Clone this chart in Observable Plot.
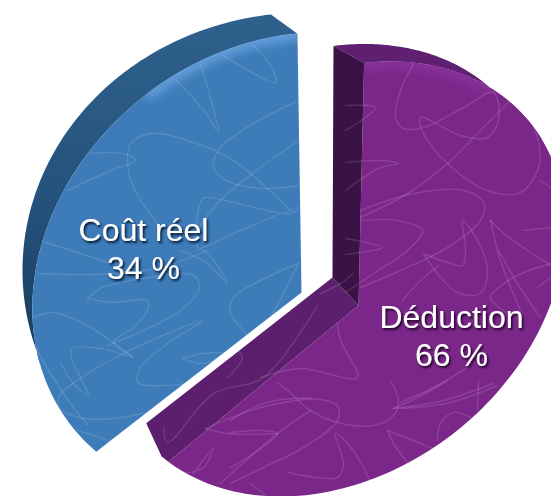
<!DOCTYPE html>
<html lang="fr">
<head>
<meta charset="utf-8">
<script src="https://cdn.jsdelivr.net/npm/d3@7"></script>
<script src="https://cdn.jsdelivr.net/npm/@observablehq/plot@0.6"></script>
<style>
html,body{margin:0;padding:0;background:#fff}
svg{display:block}
</style>
</head>
<body>
<div id="chart"></div>
<script>
// ---- Data ----
const categories = ["Coût réel", "Déduction"];
const shares = [34, 66];
const blueSquiggles = [
  [[200,63],[212,105],[218,132],[205,112],[176,80]],
  [[223,55],[253,73],[275,82],[272,68],[253,45]],
  [[67,190],[110,170],[135,160],[123,153],[90,153]],
  [[157,223],[133,187],[127,160],[130,143],[150,133],[187,140],[233,160],[290,210]],
  [[298,100],[253,123],[220,147],[213,167],[230,182],[267,188],[298,185]],
  [[298,140],[260,167],[223,197],[203,220],[192,240]],
  [[197,250],[197,213],[203,198],[233,202],[290,213],[298,207],[240,230],[197,250]],
  [[37,273],[83,274],[133,272],[167,265],[207,250]],
  [[45,242],[77,252],[107,262]],
  [[87,298],[100,288],[143,278],[193,275],[199,287],[180,310],[143,330],[107,345]],
  [[87,298],[113,302],[147,300],[147,310],[133,327],[113,342],[132,356],[100,348],[72,348],[71,357],[80,377],[88,395],[73,383],[60,362]],
  [[33,317],[53,312],[83,323],[110,340],[132,357]],
  [[60,410],[58,397],[87,373],[123,353],[167,333],[202,320],[167,343],[140,367],[137,382],[167,385],[187,383]],
  [[60,410],[83,418],[113,418],[147,412]],
  [[182,358],[203,353],[223,353],[203,363],[182,358]],
  [[298,263],[260,280],[233,297],[230,313],[243,330],[258,348]],
  [[298,263],[283,293],[270,317]],
  [[77,430],[93,435],[113,442]],
  [[33,343],[50,373],[73,407],[88,425]],
  [[180,250],[207,263],[227,283],[213,260],[203,250]]
];
const purpleSquiggles = [
  [[413,63],[400,90],[395,117],[403,128],[423,127],[463,107],[493,92],[498,120],[487,137],[460,135],[420,117],[423,133],[447,163],[487,190],[520,192],[538,167],[537,137],[520,105]],
  [[510,100],[480,130],[447,163],[407,193],[360,217]],
  [[360,210],[413,193],[463,190],[483,202],[480,220],[447,247],[400,270],[360,287]],
  [[360,220],[397,220],[422,230],[407,250],[373,273],[345,292]],
  [[345,190],[380,167],[398,163],[380,160],[345,162]],
  [[345,238],[382,247],[345,254]],
  [[345,130],[375,107],[345,105]],
  [[423,253],[447,262],[462,265],[465,247],[462,220],[477,240],[487,270],[480,293],[457,292],[437,273],[423,253]],
  [[490,220],[500,230],[527,250],[551,265]],
  [[490,220],[500,260],[520,310]],
  [[438,265],[420,280],[402,300]],
  [[551,263],[513,277],[490,297],[503,310],[520,317]],
  [[523,230],[551,227]],
  [[540,180],[551,188]],
  [[277,382],[287,390],[310,410],[337,422],[373,425],[393,415],[398,400],[390,380]],
  [[230,420],[263,403],[310,398],[337,405],[337,420],[303,447],[263,467],[230,483]],
  [[230,432],[263,430],[277,433],[253,453],[230,467]],
  [[250,483],[267,496]],
  [[288,472],[317,477],[337,477],[343,465],[335,433],[347,443],[363,467],[369,480]],
  [[387,430],[393,443],[407,462]],
  [[387,430],[413,440],[437,450]],
  [[437,440],[440,423],[453,412],[470,417]],
  [[393,408],[443,400],[493,383]],
  [[393,408],[417,397],[447,380]],
  [[478,380],[477,410]],
  [[400,408],[450,402],[497,385]],
  [[400,402],[433,387],[467,367]],
  [[498,250],[517,283],[540,317]],
  [[537,287],[550,277]],
  [[163,427],[167,442],[213,393],[263,377],[317,305]],
  [[227,377],[242,357],[232,345]],
  [[260,377],[300,368],[357,377],[340,340],[337,323]],
  [[320,293],[340,283],[353,273]],
  [[180,473],[203,467],[213,447],[193,473]],
  [[220,483],[277,433],[310,410]],
  [[205,428],[227,433],[277,433]],
  [[205,428],[260,407],[310,398]]
];

// ---- Perspective of the drawing (not data) ----
const blueFace = {cx:276, cy:265, ax:240, bx:45, by:-233, apex:[301,292], start:95.7, stretch:1.122};
const blueBack = {cx:305, cy:270, ax:283, bx:0, by:-258, start:97, fraction:0.84};
const purpleFace = {cx:335, cy:278.5, ax:223, bx:55, by:-217.5, apex:[358,305], start:96.7, stretch:0.924};
const purpleBack = {cx:312, cy:250.5, ax:222, bx:52, by:-207, apex:[332,277], start:97.9};
const labelAnchors = [[143,247],[451,334]];

const rad = d => d * Math.PI / 180;
const onEllipse = (s, deg) => ({
  x: s.cx + s.ax * Math.cos(rad(deg)) + s.bx * Math.sin(rad(deg)),
  y: s.cy + s.by * Math.sin(rad(deg))
});
const arc = (s, from, to, n = 90) =>
  d3.range(n + 1).map(i => onEllipse(s, from + (to - from) * i / n));
const pt = ([x, y]) => ({x, y});

const blueEnd = blueFace.start + shares[0] * 3.6 * blueFace.stretch;
const purpleEnd = purpleFace.start - shares[1] * 3.6 * purpleFace.stretch;

const blueFacePts = [pt(blueFace.apex), ...arc(blueFace, blueFace.start, blueEnd)];
const blueBackEnd = blueBack.start + shares[0] * 3.6 * blueBack.fraction;
const blueSidePts = [
  ...arc(blueBack, blueBack.start, blueBackEnd),
  ...arc(blueFace, 205, blueFace.start)
];
const purpleFacePts = [pt(purpleFace.apex), ...arc(purpleFace, purpleFace.start, purpleEnd, 140)];
const purpleTopPts = [
  ...arc(purpleBack, purpleBack.start, 30),
  ...arc(purpleFace, 40, purpleFace.start)
];
const purpleWallPts = [
  onEllipse(purpleBack, purpleBack.start),
  onEllipse(purpleFace, purpleFace.start),
  pt(purpleFace.apex),
  pt(purpleBack.apex)
];
const purpleLowerPts = [
  pt(purpleBack.apex),
  onEllipse(purpleBack, purpleEnd - 0.8),
  ...arc(purpleFace, purpleEnd - 2.5, purpleEnd, 4),
  pt(purpleFace.apex)
];
const blueRim = arc(blueFace, blueFace.start - 2, blueFace.start + 36, 40);
const purpleRim = arc(purpleFace, purpleFace.start + 2, 62, 30);

const flat = list => list.flatMap((s, id) => s.map(([x, y]) => ({x, y, id})));
const shape = (pts, fill) =>
  Plot.line(pts, {x: "x", y: "y", fill, stroke: "none", curve: "linear"});
const texture = list =>
  Plot.line(flat(list), {x: "x", y: "y", z: "id", stroke: "#fff", strokeOpacity: 0.12,
    strokeWidth: 1.5, curve: "catmull-rom"});
const rim = (pts, stroke) =>
  Plot.line(pts, {x: "x", y: "y", stroke, strokeWidth: 14, strokeOpacity: 0.6, curve: "linear"});

const layers = [
  ["blue side", shape(blueSidePts, "url(#blueSideGrad)")],
  ["blue face", shape(blueFacePts, "#3d7bb9")],
  ["blue rim", rim(blueRim, "#78b2ee")],
  ["blue texture", texture(blueSquiggles)],
  ["purple top", shape(purpleTopPts, "#5f2071")],
  ["purple lower", shape(purpleLowerPts, "#5b1f6d")],
  ["purple face", shape(purpleFacePts, "#7b278a")],
  ["purple rim", rim(purpleRim, "#9038a2")],
  ["purple wall", shape(purpleWallPts, "#3a1245")],
  ["purple texture", texture(purpleSquiggles)],
  ["labels", Plot.text(categories.map((c, i) => ({c, i, s: shares[i]})), {
    x: d => labelAnchors[d.i][0],
    y: d => labelAnchors[d.i][1],
    text: d => `${d.c}\n${d.s} %`,
    fill: "#fff",
    fontSize: 32,
    lineHeight: 1.19,
    fontFamily: "'Liberation Sans', Arial, Helvetica, sans-serif",
    textAnchor: "middle"
  })]
];

const svg = Plot.plot({
  width: 551, height: 496,
  margin: 0,
  style: {background: "transparent", overflow: "hidden"},
  x: {domain: [0, 551], range: [0, 551], axis: null},
  y: {domain: [0, 496], range: [0, 496], axis: null},
  marks: layers.map(l => l[1])
});

// Clip paths, gradient and glows for the picture's gloss
const NS = "http://www.w3.org/2000/svg";
const markGroups = Array.from(svg.children).filter(e => e.tagName.toLowerCase() === "g");
const group = label => markGroups[layers.findIndex(l => l[0] === label)];
const defs = document.createElementNS(NS, "defs");
defs.innerHTML = `
  <linearGradient id="blueSideGrad" x1="0" y1="0" x2="0" y2="1">
    <stop offset="0" stop-color="#2f618d"/>
    <stop offset="0.55" stop-color="#24517c"/>
    <stop offset="1" stop-color="#183a5a"/>
  </linearGradient>
  <filter id="rimBlur" x="-30%" y="-30%" width="160%" height="160%"><feGaussianBlur stdDeviation="5"/></filter>
  <filter id="shadowBlue" x="-20%" y="-20%" width="140%" height="140%"><feDropShadow dx="1.5" dy="2" stdDeviation="1" flood-color="#06182c" flood-opacity="1"/></filter>
  <filter id="shadowPurple" x="-20%" y="-20%" width="140%" height="140%"><feDropShadow dx="1.5" dy="2" stdDeviation="1" flood-color="#1c0524" flood-opacity="1"/></filter>`;
svg.insertBefore(defs, svg.firstChild);
function addClip(id, labels) {
  const cp = document.createElementNS(NS, "clipPath");
  cp.setAttribute("id", id);
  labels.forEach(l => cp.appendChild(group(l).querySelector("path").cloneNode()));
  defs.appendChild(cp);
}
addClip("clipBlue", ["blue face", "blue side"]);
addClip("clipBlueFace", ["blue face"]);
addClip("clipPurple", ["purple face", "purple top", "purple lower", "purple wall"]);
addClip("clipPurpleFace", ["purple face"]);
group("blue texture").setAttribute("clip-path", "url(#clipBlue)");
group("purple texture").setAttribute("clip-path", "url(#clipPurple)");
function glow(label, clipId) {
  const g = group(label);
  const outer = document.createElementNS(NS, "g");
  outer.setAttribute("clip-path", `url(#${clipId})`);
  g.parentNode.insertBefore(outer, g);
  outer.appendChild(g);
  g.setAttribute("filter", "url(#rimBlur)");
}
glow("blue rim", "clipBlueFace");
glow("purple rim", "clipPurpleFace");
const texts = group("labels").querySelectorAll("text");
texts[0].setAttribute("filter", "url(#shadowBlue)");
texts[1].setAttribute("filter", "url(#shadowPurple)");

document.getElementById("chart").appendChild(svg);
</script>
</body>
</html>
